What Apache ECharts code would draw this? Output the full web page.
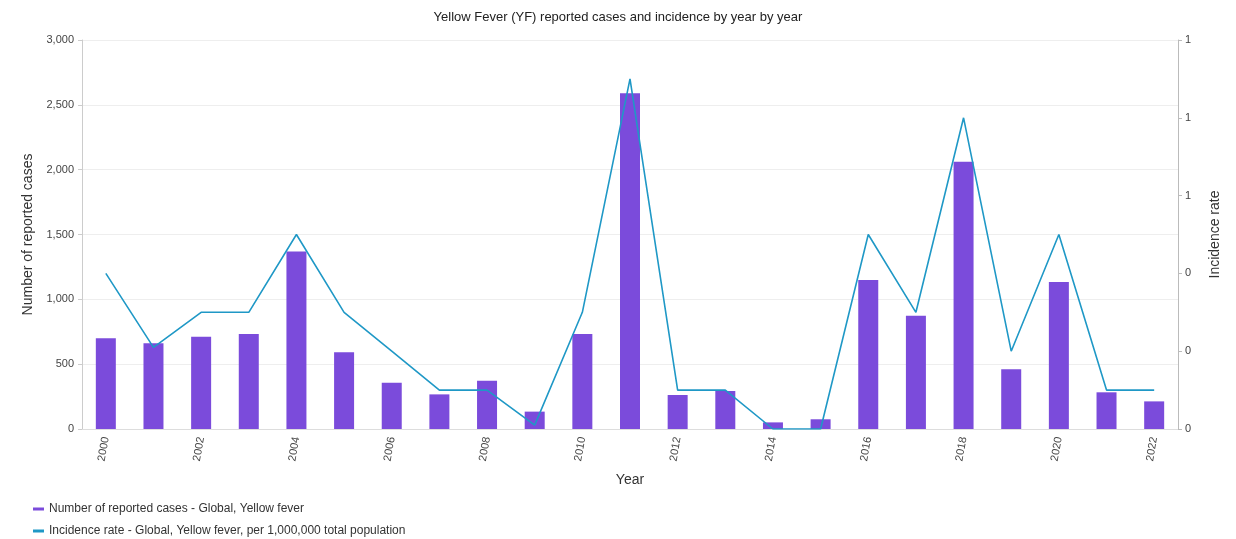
<!DOCTYPE html>
<html>
<head>
<meta charset="utf-8">
<script src="https://cdn.jsdelivr.net/npm/echarts@6/dist/echarts.min.js"></script>
<style>
  html, body { margin: 0; padding: 0; background: #fff; }
  #chart { width: 1236px; height: 539px; }
</style>
</head>
<body>
<div id="chart"></div>
<script>
// Years on the category axis
const years = ['2000','2001','2002','2003','2004','2005','2006','2007','2008','2009','2010','2011',
               '2012','2013','2014','2015','2016','2017','2018','2019','2020','2021','2022'];

// Number of reported YF cases, global
const reportedCases = [700, 661, 712, 733, 1368, 591, 357, 267, 373, 134, 733, 2590,
                       262, 293, 51, 75, 1149, 874, 2062, 460, 1134, 283, 213];

// Incidence rate per 1,000,000 total population
const incidenceRate = [0.4, 0.21, 0.3, 0.3, 0.5, 0.3, 0.2, 0.1, 0.1, 0.01, 0.3, 0.9,
                       0.1, 0.1, 0.0, 0.0, 0.5, 0.3, 0.8, 0.2, 0.5, 0.1, 0.1];

const seriesNames = [
  'Number of reported cases - Global, Yellow fever',
  'Incidence rate - Global, Yellow fever, per 1,000,000 total population'
];

const FONT = '"Liberation Sans", Arial, Helvetica, sans-serif';
const BAR_COLOR = '#7b4bdb';
const LINE_COLOR = '#1f98c6';

const chart = echarts.init(document.getElementById('chart'), null, { renderer: 'canvas' });

// One legend block per series, stacked in the bottom-left corner
const legendBase = {
  left: 28,
  itemWidth: 11,
  itemHeight: 3,
  icon: 'rect',
  textStyle: { fontFamily: FONT, fontSize: 12, color: '#333' }
};

chart.setOption({
  animation: false,
  textStyle: { fontFamily: FONT },
  title: {
    text: 'Yellow Fever (YF) reported cases and incidence by year by year',
    left: 'center',
    top: 6,
    textStyle: { fontFamily: FONT, fontSize: 13, fontWeight: 'normal', color: '#222' }
  },
  legend: [
    Object.assign({ top: 498, data: [seriesNames[0]] }, legendBase),
    Object.assign({ top: 520, data: [seriesNames[1]] }, legendBase)
  ],
  grid: { left: 82, right: 58, top: 40, bottom: 110 },
  xAxis: {
    type: 'category',
    data: years,
    boundaryGap: true,
    name: 'Year',
    nameLocation: 'middle',
    nameGap: 44,
    nameTextStyle: { fontFamily: FONT, fontSize: 14, color: '#333' },
    axisLine: { lineStyle: { color: '#ddd' } },
    axisTick: { show: false },
    axisLabel: {
      interval: 1,
      rotate: 80,
      margin: 8,
      fontFamily: FONT,
      fontSize: 11,
      color: '#444'
    }
  },
  yAxis: [
    {
      type: 'value',
      min: 0,
      max: 3000,
      interval: 500,
      name: 'Number of reported cases',
      nameLocation: 'middle',
      nameGap: 47,
      nameTextStyle: { fontFamily: FONT, fontSize: 14, color: '#333' },
      axisLine: { show: true, lineStyle: { color: '#ccc' } },
      axisTick: { show: true, length: 4, lineStyle: { color: '#ccc' } },
      axisLabel: {
        fontFamily: FONT,
        fontSize: 11,
        color: '#444',
        margin: 8,
        formatter: v => v.toLocaleString('en-US')
      },
      splitLine: { lineStyle: { color: '#eee' } }
    },
    {
      type: 'value',
      min: 0,
      max: 1,
      interval: 0.2,
      name: 'Incidence rate',
      nameLocation: 'middle',
      nameGap: 30,
      nameTextStyle: { fontFamily: FONT, fontSize: 14, color: '#333' },
      axisLine: { show: true, lineStyle: { color: '#bbb' } },
      axisTick: { show: true, length: 4, lineStyle: { color: '#bbb' } },
      axisLabel: {
        fontFamily: FONT,
        fontSize: 11,
        color: '#444',
        margin: 7,
        formatter: v => String(Math.round(v))
      },
      splitLine: { show: false }
    }
  ],
  series: [
    {
      name: seriesNames[0],
      type: 'bar',
      yAxisIndex: 0,
      data: reportedCases,
      barWidth: 20,
      itemStyle: { color: BAR_COLOR }
    },
    {
      name: seriesNames[1],
      type: 'line',
      yAxisIndex: 1,
      data: incidenceRate,
      showSymbol: false,
      symbol: 'none',
      lineStyle: { color: LINE_COLOR, width: 1.6 },
      itemStyle: { color: LINE_COLOR }
    }
  ]
});
</script>
</body>
</html>
